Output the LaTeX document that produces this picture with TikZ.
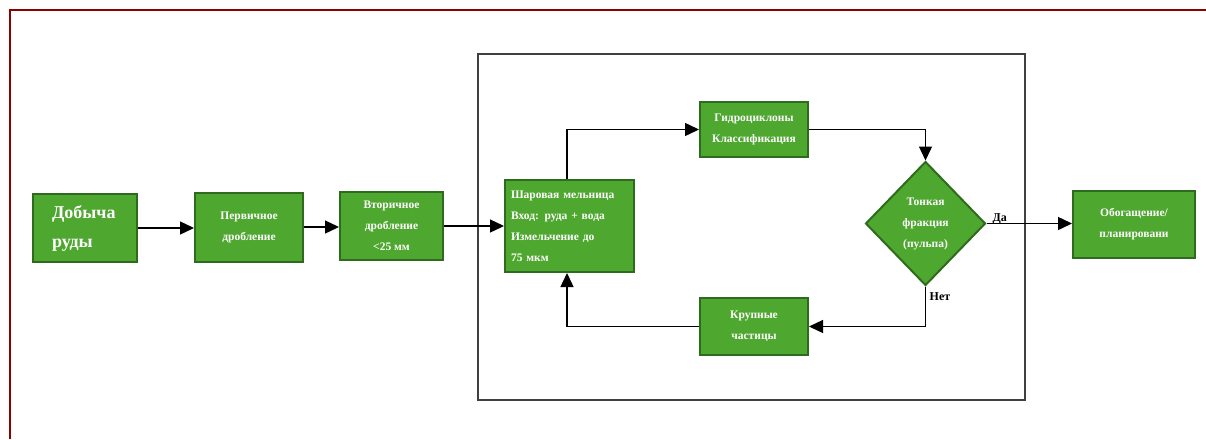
\documentclass[tikz,border=0pt]{standalone}
\usepackage{fontspec}
\setmainfont{Liberation Serif}
\usetikzlibrary{arrows.meta,shapes.geometric}
\definecolor{boxgreen}{HTML}{4EA72E}
\definecolor{boxedge}{HTML}{2F6B1E}
\definecolor{framered}{HTML}{8B0000}
\begin{document}
\begin{tikzpicture}[x=1pt,y=-1pt,
 box/.style={draw=boxedge,fill=boxgreen,line width=2pt,text=white,font=\bfseries\fontsize{11.5}{21}\selectfont,align=center,inner sep=0pt},
 conn/.style={line width=1.4pt,-{Triangle[length=14pt,width=13pt]}},
 lbl/.style={font=\bfseries\fontsize{12}{13}\selectfont,inner sep=0pt}
 ]
\useasboundingbox (0,0) rectangle (1206,439);
\draw[framered,line width=2pt] (1206,10) -- (10,10) -- (10,439);
\draw[black!75,line width=1.2pt] (478,54) rectangle (1025,400);
\node[box,minimum width=104pt,minimum height=68pt,font=\bfseries\fontsize{18}{29}\selectfont,align=left,text width=66pt] (a) at (85,228) {Добыча\\руды};
\node[box,minimum width=108pt,minimum height=69pt] (b) at (249,227) {Первичное\\дробление};
\node[box,minimum width=103pt,minimum height=68pt] (c) at (391.5,226) {Вторичное\\дробление\\<25 мм};
\node[box,minimum width=129pt,minimum height=92pt,align=left,text width=117pt] (d) at (569.5,226) {Шаровая мельница\\Вход: руда + вода\\Измельчение до\\75 мкм};
\node[box,minimum width=108pt,minimum height=55pt] (e) at (754,129.5) {Гидроциклоны\\Классификация};
\node[box,diamond,minimum width=120pt,minimum height=124pt] (f) at (925.5,223.5) {Тонкая\\фракция\\(пульпа)};
\node[box,minimum width=122pt,minimum height=67pt] (g) at (1134,224.5) {Обогащение/\\планировани};
\node[box,minimum width=108pt,minimum height=57pt] (h) at (754,326.5) {Крупные\\частицы};
\draw[conn] (a.east) -- (a.east -| b.west);
\draw[conn] (b.east) -- (b.east -| c.west);
\draw[conn] (c.east) -- (c.east -| d.west);
\draw[conn] ([xshift=-2.5pt]d.north) |- (e.west);
\draw[conn] (e.east) -| (f.north);
\draw[conn] (f.east) -- (f.east -| g.west);
\draw[conn] (f.south) |- (h.east);
\draw[conn] (h.west) -| ([xshift=-2.5pt]d.south);
\node[lbl,anchor=south west] (da) at ([xshift=6pt,yshift=-1pt]f.east) {Да};
\node[lbl,anchor=north west] (net) at ([xshift=4pt,yshift=-6pt]f.south) {Нет};
\end{tikzpicture}
\end{document}
